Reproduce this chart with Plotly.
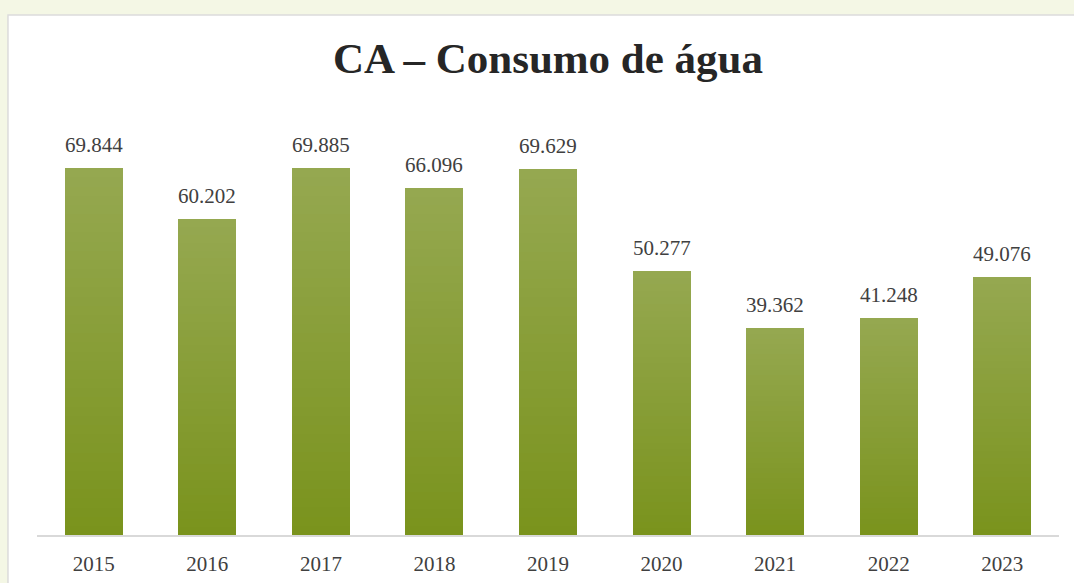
import plotly.graph_objects as go

years = ["2015", "2016", "2017", "2018", "2019", "2020", "2021", "2022", "2023"]
values = [69.844, 60.202, 69.885, 66.096, 69.629, 50.277, 39.362, 41.248, 49.076]
labels = ["69.844", "60.202", "69.885", "66.096", "69.629", "50.277", "39.362", "41.248", "49.076"]

top_rgb = (149, 168, 80)
bot_rgb = (122, 147, 29)
N = 40

fig = go.Figure()
for i in range(N):
    t = i / (N - 1)  # 0 bottom -> 1 top
    c = tuple(round(b + (tp - b) * t) for b, tp in zip(bot_rgb, top_rgb))
    fig.add_trace(go.Bar(
        x=years, y=[v / N for v in values],
        marker=dict(color="rgb(%d,%d,%d)" % c, line=dict(width=0)),
        width=0.51, hoverinfo="skip", showlegend=False,
    ))

for idx, (v, lab) in enumerate(zip(values, labels)):
    fig.add_annotation(x=idx, y=v, text=lab, showarrow=False, yanchor="bottom",
                       yshift=9, font=dict(family="Liberation Serif", size=21, color="#404040"))

fig.add_shape(type="rect", xref="paper", yref="paper", x0=-0.0284, x1=1.1, y0=-0.2, y1=1.238,
              fillcolor="white", line=dict(color="#DCDCDC", width=1.5), layer="below")

fig.update_layout(
    width=1074, height=583,
    barmode="stack", bargap=0.49,
    paper_bgcolor="#F4F7E5", plot_bgcolor="rgba(0,0,0,0)",
    margin=dict(l=37, r=15, t=115, b=48, autoexpand=False),
    title=dict(text="<b>CA – Consumo de água</b>", x=0.5, xref="paper", y=1 - 58 / 583,
               yref="container", xanchor="center", yanchor="middle",
               font=dict(family="Liberation Serif", size=43, color="#262626")),
    xaxis=dict(type="category", range=[-0.5, len(years) - 0.5], autorange=False, automargin=False,
               showline=True, linecolor="#D9D9D9", linewidth=1.5, showgrid=False,
               ticks="", ticklabelstandoff=9,
               tickfont=dict(family="Liberation Serif", size=21, color="#404040")),
    yaxis=dict(range=[0, 80], autorange=False, visible=False, showgrid=False, automargin=False),
)

fig.write_html("out.html", config={"displayModeBar": False},
               post_script="document.body.style.margin='0';document.body.style.background='#F4F7E5';")
